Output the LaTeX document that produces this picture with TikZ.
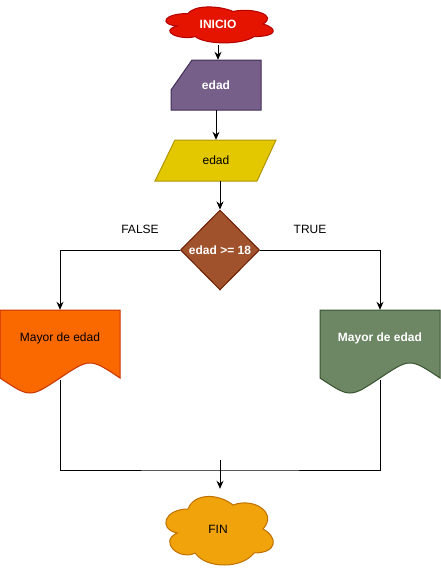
\documentclass[tikz,border=0pt]{standalone}
\usepackage{fontspec}
\setmainfont{Liberation Sans}
\usetikzlibrary{shapes.geometric, arrows.meta, calc}

\definecolor{rojo}{HTML}{E51400}
\definecolor{rojoborde}{HTML}{B20000}
\definecolor{morado}{HTML}{76608A}
\definecolor{moradoborde}{HTML}{432D57}
\definecolor{amarillo}{HTML}{E3C800}
\definecolor{amarilloborde}{HTML}{B09500}
\definecolor{cafe}{HTML}{A0522D}
\definecolor{cafeborde}{HTML}{6D1F00}
\definecolor{naranja}{HTML}{FA6800}
\definecolor{naranjaborde}{HTML}{C73500}
\definecolor{verde}{HTML}{6D8764}
\definecolor{verdeborde}{HTML}{3A5431}
\definecolor{ambar}{HTML}{F0A30A}
\definecolor{ambarborde}{HTML}{BD7000}

% contorno de nube en una caja de 1 x 1
\newcommand{\contornonube}{(0.25,0.25) .. controls (0.05,0.25) and (0,0.5) .. (0.16,0.55)
    .. controls (0,0.66) and (0.18,0.9) .. (0.31,0.8) .. controls (0.4,1) and (0.7,1) .. (0.8,0.8)
    .. controls (1,0.8) and (1,0.6) .. (0.875,0.5) .. controls (1,0.3) and (0.8,0.1) .. (0.625,0.2)
    .. controls (0.5,0.05) and (0.3,0.05) .. (0.25,0.25) -- cycle}

\begin{document}
\begin{tikzpicture}[x=1pt, y=-1pt, font=\fontsize{12}{14}\selectfont,
    flecha/.style={-{Stealth[length=8pt,width=7pt]}, line width=1pt},
    linea/.style={line width=1pt},
    caja/.style={inner sep=0pt, align=center},
    negrita/.style={font=\fontsize{12}{14}\selectfont\bfseries, text=white}]
    \useasboundingbox (0,0) rectangle (441,571);

    % Inicio
    \begin{scope}[shift={(158,3)}, x=120pt, y=-42pt]
        \draw[fill=rojo, draw=rojoborde, line width=1pt] \contornonube;
    \end{scope}
    \node[caja, minimum width=120, minimum height=42, negrita] (inicio) at (218,24) {INICIO};

    % Entrada manual
    \draw[fill=morado, draw=moradoborde, line width=1pt] (171,90) -- (192,60) -- (261,60) -- (261,110) -- (171,110) -- cycle;
    \node[caja, minimum width=90, minimum height=50, negrita] (entrada) at (216,85) {edad};

    % Dato
    \draw[fill=amarillo, draw=amarilloborde, line width=1pt] (175,140) -- (276,140) -- (257,181) -- (155,181) -- cycle;
    \node[caja, minimum width=101, minimum height=41] (leer) at (216,160.5) {edad};

    % Decision
    \node[diamond, fill=cafe, draw=cafeborde, line width=1pt, minimum width=79, minimum height=80, inner sep=0pt,
        label={[negrita]center:edad >= 18}] (decision) at (220,250) {};
    \node (falso) at (140,229) {FALSE};
    \node (verdadero) at (310,229) {TRUE};

    % Documentos
    \draw[fill=naranja, draw=naranjaborde, line width=1pt] (0,310) -- (120,310) -- (120,378)
        .. controls (90,358) .. (60,378) .. controls (30,398) .. (0,378) -- cycle;
    \node[caja, minimum width=120, minimum height=70, label={[yshift=7pt]center:Mayor de edad}] (mayorF) at (60,345) {};
    \draw[fill=verde, draw=verdeborde, line width=1pt] (320,310) -- (440,310) -- (440,378)
        .. controls (410,358) .. (380,378) .. controls (350,398) .. (320,378) -- cycle;
    \node[caja, minimum width=120, minimum height=70, label={[negrita,yshift=7pt]center:Mayor de edad}] (mayorT) at (380,345) {};

    % Fin
    \begin{scope}[shift={(158,489)}, x=120pt, y=-80pt]
        \draw[fill=ambar, draw=ambarborde, line width=1pt] \contornonube;
    \end{scope}
    \node[caja, minimum width=120, minimum height=80] (fin) at (218,529) {FIN};

    % Conectores
    \draw[flecha] (inicio.south) -- (inicio.south |- entrada.north);
    \draw[flecha] (entrada.south) -- (leer.north);
    \draw[flecha] (decision.north |- leer.south) -- (decision.north);
    \draw[flecha] (decision.west) -| (mayorF.north);
    \draw[flecha] (decision.east) -| (mayorT.north);
    \coordinate (cierre) at (220,470);
    \coordinate (union) at (220,460);
    \draw[linea] (mayorF.south) |- (cierre) -| (mayorT.south);
    \draw[flecha] (union) -- (union |- fin.north);
\end{tikzpicture}
\end{document}
